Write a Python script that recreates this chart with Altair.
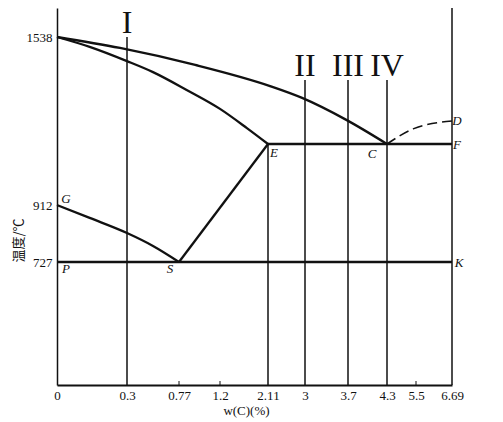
import altair as alt
import pandas as pd

# ---------------- data ----------------
x_ticks = [0, 0.3, 0.77, 1.2, 2.11, 3, 3.7, 4.3, 5.5, 6.69]
t_ticks = [727, 912, 1538]

liq_w = [0, 0.27, 0.94, 2.16, 2.93, 3.68, 4.3]
liq_t = [1538, 1498, 1436, 1359, 1316, 1235, 1148]
sol_w = [0, 0.14, 0.3, 0.535, 0.85, 1.2, 1.71, 2.11]
sol_t = [1538, 1502, 1450, 1410, 1345, 1276, 1206, 1148]
es_w = [2.11, 0.77]
es_t = [1148, 727]
gs_w = [0, 0.14, 0.3, 0.535, 0.77]
gs_t = [912, 870, 821, 779, 727]
ecf_w = [2.11, 6.69]
ecf_t = [1148, 1148]
psk_w = [0, 6.69]
psk_t = [727, 727]
cd_w = [4.3, 5.38, 6.69]
cd_t = [1148, 1203, 1232]

v_w = [0.3, 2.11, 3, 3.7, 4.3, 6.69]
v_top = [1538, 1148, 1381, 1381, 1381, 1650]
t_bottom = 400

roman_text = ["I", "II", "III", "IV"]
roman_w = [0.3, 3, 3.7, 4.3]
roman_t = [1538, 1381, 1381, 1381]

pt_name = ["G", "E", "C", "F", "D", "P", "S", "K"]
pt_w = [0, 2.11, 4.3, 6.69, 6.69, 0, 0.77, 6.69]
pt_t = [912, 1148, 1148, 1148, 1232, 727, 727, 727]

minor_w = [0.77, 1.2, 5.5]

# ---------------- scales (schematic, piecewise) ----------------
W, H = 395, 377
xscale = alt.Scale(domain=x_ticks,
                   range=[0, 70, 122, 163, 211, 248, 291, 330, 359, 395],
                   nice=False, zero=False)
yscale = alt.Scale(domain=[t_bottom, 727, 912, 1148, 1538, 1650],
                   range=[377, 254, 197, 136, 29, 0],
                   nice=False, zero=False)

INK = "#111111"
SERIF = "Liberation Serif"

rows = []
for name, ws, ts in [("liq", liq_w, liq_t), ("sol", sol_w, sol_t),
                     ("es", es_w, es_t), ("gs", gs_w, gs_t),
                     ("ecf", ecf_w, ecf_t), ("psk", psk_w, psk_t)]:
    for i, (w, t) in enumerate(zip(ws, ts)):
        rows.append({"seg": name, "w": w, "t": t, "o": i})
thick = pd.DataFrame(rows)
cd = pd.DataFrame({"w": cd_w, "t": cd_t, "o": list(range(len(cd_w)))})
vl = pd.DataFrame({"w": v_w, "top": v_top, "bot": [t_bottom] * len(v_w)})
rom = pd.DataFrame({"txt": roman_text, "w": roman_w, "t": roman_t})
pts = pd.DataFrame({"name": pt_name, "w": pt_w, "t": pt_t})
minor = pd.DataFrame({"w": minor_w, "bot": [t_bottom] * len(minor_w)})

X = alt.X("w:Q", scale=xscale,
          axis=alt.Axis(values=x_ticks, labelExpr="'' + datum.value", ticks=False,
                        grid=False, labelFlush=False, labelOverlap=False,
                        labelFont=SERIF, labelFontSize=13, labelColor=INK,
                        labelPadding=4, domainColor=INK, domainWidth=2,
                        title="w(C)(%)", titleFont=SERIF, titleFontSize=13,
                        titleFontWeight="normal", titleColor=INK,
                        titlePadding=2, titleX=189))
Y = alt.Y("t:Q", scale=yscale,
          axis=alt.Axis(values=t_ticks, format="d", ticks=False, grid=False,
                        labelFlush=False, labelOverlap=False,
                        labelFont=SERIF, labelFontSize=13, labelColor=INK,
                        labelPadding=5, domainColor=INK, domainWidth=1.5,
                        title="温度/℃", titleFont="Noto Sans CJK SC",
                        titleFontSize=13, titleFontWeight="normal",
                        titleColor=INK, titlePadding=1, titleY=232))

base_thick = alt.Chart(thick).mark_line(color=INK, strokeWidth=2.3,
                                        interpolate="monotone").encode(
    x=X, y=Y, detail="seg:N", order="o:Q")

dashed = alt.Chart(cd).mark_line(color=INK, strokeWidth=1.5, strokeDash=[10, 5],
                                 interpolate="monotone").encode(
    x="w:Q", y="t:Q", order="o:Q")

verticals = alt.Chart(vl).mark_rule(color=INK, strokeWidth=1.5).encode(
    x="w:Q", y="top:Q", y2="bot:Q")

minor_ticks = alt.Chart(minor).mark_rule(color=INK, strokeWidth=1).encode(
    x="w:Q", y="bot:Q", y2=alt.value(H - 4))

roman = alt.Chart(rom).mark_text(font=SERIF, fontSize=32, color=INK,
                                 baseline="alphabetic", dy=-4).encode(
    x="w:Q", y="t:Q", text="txt:N")

offsets = {"G": (9, -6), "E": (6, 9), "C": (-15, 10), "F": (5, 1),
           "D": (5, 0), "P": (9, 7), "S": (-9, 7), "K": (7, 1)}
labels = []
for name, (dx, dy) in offsets.items():
    labels.append(
        alt.Chart(pts).transform_filter(alt.datum.name == name)
        .mark_text(font=SERIF, fontStyle="italic", fontSize=13, color=INK,
                   dx=dx, dy=dy, baseline="middle", align="center")
        .encode(x="w:Q", y="t:Q", text="name:N"))

chart = alt.layer(verticals, minor_ticks, base_thick, dashed, roman, *labels).properties(
    width=W, height=H,
    autosize=alt.AutoSizeParams(type="none"),
    padding={"left": 49, "top": 0, "right": 30, "bottom": 37},
    background="white",
).configure_view(stroke=None)

chart.save("out.html", embed_options={"renderer": "svg", "actions": False})
